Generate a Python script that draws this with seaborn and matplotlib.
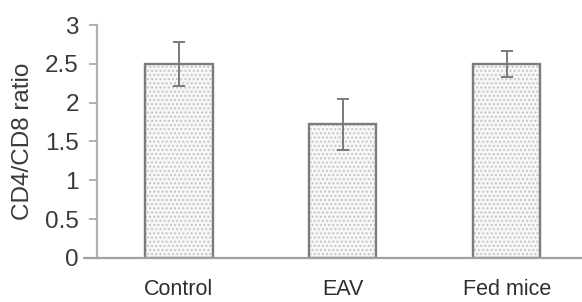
import matplotlib
matplotlib.use("Agg")
import matplotlib.pyplot as plt
import seaborn as sns
import pandas as pd

categories = ["Control", "EAV", "Fed mice"]
ratio = [2.5, 1.72, 2.5]
err = [0.28, 0.33, 0.17]
yticks = [0, 0.5, 1, 1.5, 2, 2.5, 3]
ytick_labels = ["0", "0.5", "1", "1.5", "2", "2.5", "3"]

sns.set_theme(style="white")
plt.rcParams['font.family'] = ['Liberation Sans', 'DejaVu Sans']
plt.rcParams['hatch.linewidth'] = 1.0

df = pd.DataFrame({"group": categories, "ratio": ratio})

fig = plt.figure(figsize=(5.82, 3.02), dpi=100)
ax = fig.add_axes([0.1667, 0.146, 0.8333, 0.771])

# dotted fill
sns.barplot(data=df, x="group", y="ratio", ax=ax, color="#f7f7f7",
            edgecolor="#c4c4c4", linewidth=0, width=0.41, hatch="....",
            errorbar=None)
# outlines
sns.barplot(data=df, x="group", y="ratio", ax=ax, fill=False,
            edgecolor="#7c7c7c", linewidth=1.7, width=0.41, errorbar=None)

ax.errorbar(range(len(categories)), ratio, yerr=err, fmt="none",
            ecolor="#7a7a7a", elinewidth=1.4, capsize=4, capthick=1.4)

ax.set_ylim(0, 3)
ax.set_xlim(-0.5, 2.46)
ax.set_yticks(yticks)
ax.set_yticklabels(ytick_labels)
ax.set_xlabel("")
ax.set_ylabel("CD4/CD8 ratio", fontsize=17.5, color="#3a3a3a")
ax.yaxis.set_label_coords(-0.13, 0.5)

for s in ["top", "right", "bottom"]:
    ax.spines[s].set_visible(False)
ax.spines["left"].set_color("#b0b0b0")
ax.spines["left"].set_linewidth(1.6)
# baseline extending slightly left of the value axis
ax.axhline(0, xmin=-0.026, xmax=1, color="#a0a0a0", linewidth=1.6,
           clip_on=False, zorder=5)

ax.tick_params(axis="y", which="both", left=True, length=6, width=1.4,
               color="#b0b0b0", labelsize=17.5, labelcolor="#3a3a3a", pad=7)
ax.tick_params(axis="x", bottom=False, labelsize=15.5, labelcolor="#2e2e2e", pad=9.5)

fig.savefig("out.png", dpi=100)
